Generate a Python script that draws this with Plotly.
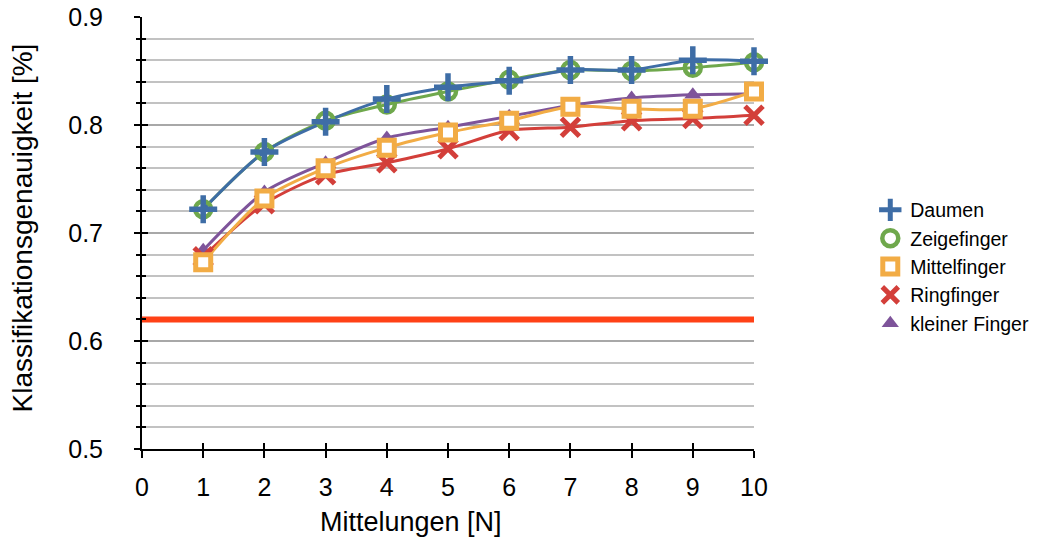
import plotly.graph_objects as go

# Number of averaged samples
mittelungen = [1, 2, 3, 4, 5, 6, 7, 8, 9, 10]

# Classification accuracy per finger
daumen = [0.722, 0.775, 0.803, 0.824, 0.835, 0.841, 0.851, 0.851, 0.860, 0.859]
zeigefinger = [0.722, 0.775, 0.804, 0.819, 0.831, 0.842, 0.851, 0.850, 0.853, 0.858]
mittelfinger = [0.673, 0.732, 0.760, 0.779, 0.793, 0.804, 0.817, 0.815, 0.815, 0.831]
ringfinger = [0.678, 0.727, 0.754, 0.765, 0.778, 0.795, 0.798, 0.804, 0.806, 0.809]
kleiner_finger = [0.684, 0.738, 0.765, 0.788, 0.798, 0.808, 0.818, 0.825, 0.828, 0.829]

# Reference level across the whole x range
ref_x = [0, 10]
ref_y = [0.62, 0.62]

FONT = "Liberation Sans, Arial, Helvetica, sans-serif"

series = [
    # name, values, colour, symbol, size, line width, fill
    ("kleiner Finger", kleiner_finger, "#7E549A", "triangle-up", 15, 0, "#7E549A"),
    ("Ringfinger", ringfinger, "#D33F3A", "x-thin", 18, 5, None),
    ("Mittelfinger", mittelfinger, "#F2AC45", "square", 15, 5, "white"),
    ("Zeigefinger", zeigefinger, "#6FA84C", "circle-open", 16, 4.5, None),
    ("Daumen", daumen, "#3E6DA6", "cross-thin", 20, 5.5, None),
]

fig = go.Figure()

fig.add_trace(go.Scatter(
    x=ref_x, y=ref_y, mode="lines",
    line=dict(color="#FF4116", width=6),
    showlegend=False, hoverinfo="skip",
))

# smoothed lines first, markers on top
for name, vals, col, sym, size, lw, fill in series:
    fig.add_trace(go.Scatter(
        x=mittelungen, y=vals, mode="lines",
        line=dict(color=col, width=3, shape="spline", smoothing=0.8),
        showlegend=False, hoverinfo="skip",
    ))

for name, vals, col, sym, size, lw, fill in series:
    marker = dict(symbol=sym, size=size, color=fill if fill else col,
                  line=dict(color=col, width=lw))
    fig.add_trace(go.Scatter(
        x=mittelungen, y=vals, mode="markers", name=name,
        marker=marker, cliponaxis=False,
    ))

fig.update_layout(
    width=1055, height=538,
    margin=dict(l=142, r=301, t=17, b=89),
    plot_bgcolor="white", paper_bgcolor="white",
    font=dict(family=FONT, size=25, color="black"),
    showlegend=True,
    legend=dict(
        traceorder="reversed",
        x=1.19, y=0.598, xanchor="left", yanchor="top",
        font=dict(size=19.5, family=FONT),
        itemsizing="trace", tracegroupgap=0,
        bgcolor="rgba(0,0,0,0)",
    ),
    xaxis=dict(
        range=[0, 10], dtick=1, tick0=0,
        showgrid=False, zeroline=False, automargin=False,
        showline=True, linecolor="black", linewidth=2,
        ticks="outside", ticklen=7, tickwidth=2, tickcolor="black",
        ticklabelstandoff=8,
        tickfont=dict(size=25),
    ),
    xaxis2=dict(
        range=[0, 10], dtick=1, tick0=0, overlaying="x",
        showgrid=False, zeroline=False, showline=False, automargin=False,
        ticks="inside", ticklen=6, tickwidth=2, tickcolor="black",
        showticklabels=False, anchor="y",
    ),
    yaxis=dict(
        range=[0.5, 0.9], dtick=0.1, tick0=0.5, tickformat=".1f",
        showgrid=True, gridcolor="#A8A8A8", gridwidth=2,
        zeroline=False, automargin=False,
        showline=True, linecolor="black", linewidth=2,
        ticks="outside", ticklen=6, tickwidth=2, tickcolor="black",
        ticklabelstandoff=26,
        tickfont=dict(size=25),
        minor=dict(dtick=0.02, tick0=0.5, showgrid=True,
                   gridcolor="#C2C2C2", gridwidth=1.5,
                   ticks="outside", ticklen=4, tickwidth=2,
                   tickcolor="black"),
    ),
    yaxis2=dict(
        range=[0.5, 0.9], dtick=0.1, tick0=0.5, overlaying="y",
        showgrid=False, zeroline=False, showline=False, automargin=False,
        ticks="inside", ticklen=6, tickwidth=2, tickcolor="black",
        showticklabels=False, anchor="x",
        minor=dict(dtick=0.02, tick0=0.5, showgrid=False,
                   ticks="inside", ticklen=4, tickwidth=2,
                   tickcolor="black"),
    ),
)

# invisible carrier for the inside tick marks
fig.add_trace(go.Scatter(x=[None], y=[None], xaxis="x2", yaxis="y2",
                         showlegend=False, hoverinfo="skip"))

fig.add_annotation(
    text="Mittelungen [N]", xref="paper", yref="paper",
    x=0.44, y=-0.168, xanchor="center", yanchor="middle",
    showarrow=False, font=dict(size=27, family=FONT),
)
fig.add_annotation(
    text="Klassifikationsgenauigkeit [%]", xref="paper", yref="paper",
    x=-0.195, y=0.512, xanchor="center", yanchor="middle", textangle=-90,
    showarrow=False, font=dict(size=28, family=FONT),
)

fig.write_html("out.html")
